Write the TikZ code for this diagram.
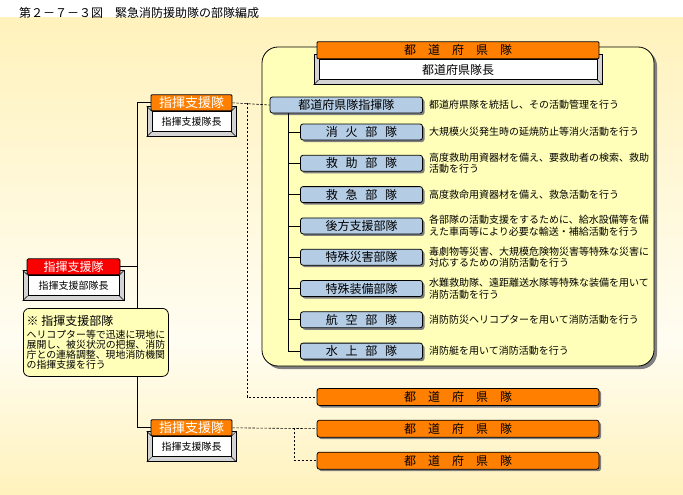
\documentclass[tikz,border=0pt]{standalone}
\usepackage{fontspec}
\setmainfont{Noto Sans CJK JP}
\usepackage{tikz}
\usetikzlibrary{positioning, shadows, calc}
\definecolor{prefor}{RGB}{255,128,0}
\definecolor{cmdred}{RGB}{250,0,0}
\definecolor{unitblue}{RGB}{180,204,228}
\definecolor{panelyel}{RGB}{255,255,186}
\definecolor{bevelgray}{RGB}{212,212,212}
\definecolor{shadegray}{RGB}{128,128,128}
\definecolor{bgyel}{RGB}{255,242,188}
\definecolor{bgpale}{RGB}{255,253,242}
\newcommand{\kgap}{\hspace{0.65em}}
\tikzset{
  unitbox/.style={draw, fill=unitblue, rounded corners=2.5pt,
    minimum width=122pt, minimum height=16pt, inner sep=0pt, line width=0.8pt,
    font=\fontsize{12}{12}\selectfont,
    drop shadow={shadow xshift=2pt, shadow yshift=-2pt, fill=shadegray, opacity=1}},
  prefbox/.style={draw, fill=prefor, rounded corners=2.5pt,
    minimum width=282pt, minimum height=17pt, inner sep=0pt, line width=0.8pt,
    font=\fontsize{12}{12}\selectfont,
    drop shadow={shadow xshift=2pt, shadow yshift=-2pt, fill=shadegray, opacity=1}},
  hdrbox/.style={draw, fill=prefor, rounded corners=1pt, minimum height=16pt,
    inner sep=0pt, line width=0.8pt, text=white, font=\fontsize{13}{13}\selectfont},
  chiefbox/.style={draw, fill=white, minimum height=20pt, inner sep=0pt,
    line width=0.8pt, font=\fontsize{10}{10}\selectfont},
  bevelbox/.style={draw, fill=bevelgray, minimum height=30pt, inner sep=0pt, line width=0.8pt},
  bevel/.style={line width=0.5pt},
  panel/.style={draw, fill=panelyel, rounded corners=16pt, line width=0.8pt,
    minimum width=392pt, minimum height=319pt,
    drop shadow={shadow xshift=3pt, shadow yshift=-3pt, fill=shadegray, opacity=1}},
  note/.style={draw, fill=panelyel, rounded corners=6pt, line width=0.8pt,
    minimum width=145pt, minimum height=68pt, inner sep=0pt, align=left,
    font=\fontsize{9.9}{10.2}\selectfont},
  desc/.style={align=left, inner sep=0pt, font=\fontsize{10}{11.5}\selectfont},
  tree/.style={line width=0.8pt},
  link/.style={line width=0.6pt, dash pattern=on 2.5pt off 1.5pt}
}

\begin{document}
\begin{tikzpicture}[x=1pt, y=-1pt]
  \useasboundingbox (0,0) rectangle (683,495);
  % background
  \fill[white] (0,0) rectangle (683,495);
  \shade[top color=bgyel, bottom color=bgpale] (0,18) rectangle (683,340);
  \shade[top color=bgpale, bottom color=bgyel] (0,340) rectangle (683,495);
  \node[anchor=west, inner sep=0pt, font=\fontsize{12}{12}\selectfont] (title) at (19,12.5)
    {第２－７－３図　緊急消防援助隊の部隊編成};

  % prefecture unit panel
  \node[panel] (prefpanel) at (458,206.5) {};
  \node[bevelbox, minimum width=288pt, anchor=south] (prefframe) at (458,85) {};
  \node[chiefbox, minimum width=278pt, font=\fontsize{12}{12}\selectfont,
    above=5pt of prefframe.south] (prefchief) {都道府県隊長};
  \draw[bevel] (prefframe.south west) -- (prefchief.south west)
    (prefframe.south east) -- (prefchief.south east);
  \node[hdrbox, minimum width=282pt, minimum height=17pt, text=black,
    font=\fontsize{12}{12}\selectfont, above=0pt of prefchief] (prefhdr) {都　道　府　県　隊};

  % command support cards
  \node[bevelbox, minimum width=89pt, anchor=south] (topframe) at (191.5,137) {};
  \node[chiefbox, minimum width=79pt, above=5pt of topframe.south] (topchief) {指揮支援隊長};
  \draw[bevel] (topframe.south west) -- (topchief.south west)
    (topframe.south east) -- (topchief.south east)
    (topframe.north west) -- (topchief.north west)
    (topframe.north east) -- (topchief.north east);
  \node[hdrbox, minimum width=81pt, above=0pt of topchief] (tophdr) {指揮支援隊};

  \node[bevelbox, minimum width=89pt, anchor=south] (botframe) at (191.5,462) {};
  \node[chiefbox, minimum width=79pt, above=5pt of botframe.south] (botchief) {指揮支援隊長};
  \draw[bevel] (botframe.south west) -- (botchief.south west)
    (botframe.south east) -- (botchief.south east)
    (botframe.north west) -- (botchief.north west)
    (botframe.north east) -- (botchief.north east);
  \node[hdrbox, minimum width=81pt, above=0pt of botchief] (bothdr) {指揮支援隊};

  \node[bevelbox, minimum width=101pt, anchor=south] (redframe) at (73.5,301) {};
  \node[chiefbox, minimum width=91pt, above=5pt of redframe.south] (redchief) {指揮支援部隊長};
  \draw[bevel] (redframe.south west) -- (redchief.south west)
    (redframe.south east) -- (redchief.south east)
    (redframe.north west) -- (redchief.north west)
    (redframe.north east) -- (redchief.north east);
  \node[hdrbox, fill=cmdred, rounded corners=1.5pt, minimum width=93pt,
    font=\fontsize{12}{12}\selectfont, above=0pt of redchief] (redhdr) {指揮支援隊};

  % support tree
  \coordinate (spine) at (137.5,0);
  \draw[tree] (tophdr.west) -- (tophdr.west -| spine) -- (bothdr.west -| spine) -- (bothdr.west);
  \draw[tree] (redhdr.east) -- (redhdr.east -| spine);

  \node[note, anchor=north west] (note) at (23,308)
    {{\fontsize{12}{12}\selectfont ※\ 指揮支援部隊}\\[3pt]
     ヘリコプター等で迅速に現地に\\展開し、被災状況の把握、消防\\
     庁との連絡調整、現地消防機関\\の指揮支援を行う};

  % units
  \node[unitbox, minimum width=152.5pt] (cmdunit) at (346.25,105) {都道府県隊指揮隊};
  \foreach \name/\label/\i in {fire/{消\kgap{}火\kgap{}部\kgap{}隊}/0, rescue/{救\kgap{}助\kgap{}部\kgap{}隊}/1,
      ems/{救\kgap{}急\kgap{}部\kgap{}隊}/2, logi/後方支援部隊/3, hazmat/特殊災害部隊/4,
      equip/特殊装備部隊/5, air/{航\kgap{}空\kgap{}部\kgap{}隊}/6, water/{水\kgap{}上\kgap{}部\kgap{}隊}/7}
    \node[unitbox] (\name) at (361.5,132+31.3*\i) {\label};

  \foreach \name/\txt in {cmdunit/都道府県隊を統括し、その活動管理を行う,
      fire/大規模火災発生時の延焼防止等消火活動を行う,
      rescue/{高度救助用資器材を備え、要救助者の検索、救助\\活動を行う},
      ems/高度救命用資器材を備え、救急活動を行う,
      logi/{各部隊の活動支援をするために、給水設備等を備\\えた車両等により必要な輸送・補給活動を行う},
      hazmat/{毒劇物等災害、大規模危険物災害等特殊な災害に\\対応するための消防活動を行う},
      equip/{水難救助隊、遠距離送水隊等特殊な装備を用いて\\消防活動を行う},
      air/消防防災ヘリコプターを用いて消防活動を行う,
      water/消防艇を用いて消防活動を行う}
    \node[desc, right=6pt of \name] (\name-desc) {\txt};

  \coordinate (trunk) at (288.5,0);
  \draw[tree] (cmdunit.south -| trunk) |- (water.west);
  \foreach \name in {fire,rescue,ems,logi,hazmat,equip,air}
    \draw[tree] (\name.west -| trunk) -- (\name.west);

  % other prefecture units
  \foreach \name/\y in {pref1/397, pref2/428.7, pref3/460.7}
    \node[prefbox] (\name) at (458,\y) {都　道　府　県　隊};

  \coordinate (drop1) at (247,0);
  \coordinate (drop2) at (294.5,0);
  \draw[link] (tophdr.east) -- (cmdunit.west);
  \draw[link] (tophdr.east -| drop1) |- (pref1.west);
  \draw[link] (bothdr.east) -- (pref2.west);
  \draw[link] (bothdr.east -| drop2) |- (pref3.west);
\end{tikzpicture}
\end{document}
